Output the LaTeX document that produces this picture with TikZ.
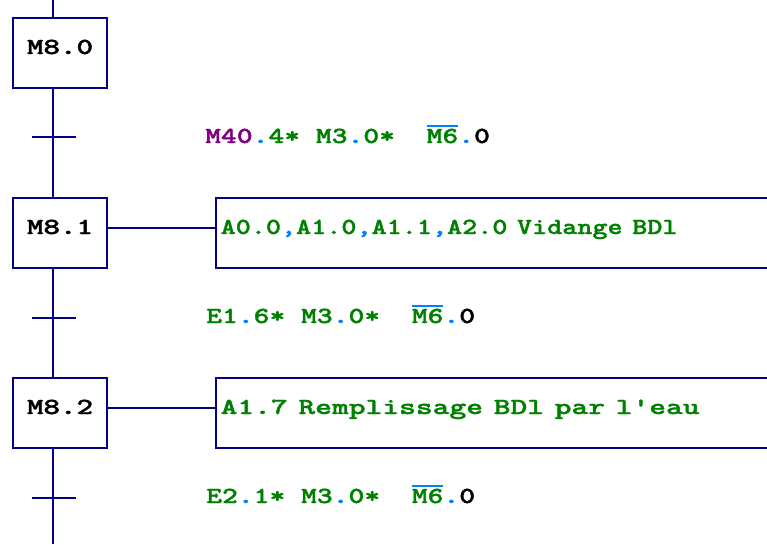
\documentclass[tikz,border=0pt]{standalone}
\usepackage{graphicx}
\usepackage{fontspec}
\newfontfamily\codemono{lmmonolt10-bold.otf}[FakeBold=1.3]
\definecolor{navy}{RGB}{0,0,128}
\definecolor{codegreen}{RGB}{0,128,0}
\definecolor{mpurple}{RGB}{128,0,128}
\definecolor{dotblue}{RGB}{0,128,255}
\newsavebox\ovlbox
% signal name with a negation bar above it
\newcommand\ovl[1]{\sbox\ovlbox{#1}\rlap{\textcolor{dotblue}{\rule[16.3pt]{\wd\ovlbox}{1.7pt}}}\usebox\ovlbox}
\newcommand\bdot{\textcolor{dotblue}{.}}
\newcommand\bcomma{\textcolor{dotblue}{,}}
\tikzset{
  link/.style={draw=navy, line width=2.3pt},
  codefont/.style={font=\fontsize{23}{23}\codemono},
  stepbox/.style={codefont, draw=navy, line width=2.3pt, minimum width=94pt,
    minimum height=70pt, text height=10pt, text depth=8pt, inner sep=0pt, text=black},
  actbox/.style={codefont, draw=navy, line width=2.3pt, minimum height=70pt,
    text height=10pt, text depth=8pt, inner xsep=4.5pt, inner ysep=0pt,
    text width=566pt, align=left, anchor=west, text=codegreen},
  cond/.style={codefont, anchor=base west, inner sep=0pt, text=codegreen},
}
\begin{document}
\begin{tikzpicture}[x=1pt, y=-1pt]
\useasboundingbox (0,0) rectangle (767,544);
\clip (0,0) rectangle (767,544);

% steps
\node[stepbox] (s0) at (60,53)  {\scalebox{1.37}[1]{M8.0}};
\node[stepbox] (s1) at (60,233) {\scalebox{1.37}[1]{M8.1}};
\node[stepbox] (s2) at (60,413) {\scalebox{1.37}[1]{M8.2}};

% actions
\node[actbox] (a1) at (215,233) {\scalebox{1.25}[1]{A0.0\bcomma A1.0\bcomma A1.1\bcomma A2.0 Vidange BDl}};
\node[actbox] (a2) at (215,413) {\scalebox{1.39}[1]{A1.7 Remplissage BDl par l\textquotesingle eau}};

% main vertical line
\coordinate (top) at (53,0);
\coordinate (bot) at (53,544);
\draw[link] (top) -- (s0.north -| top);
\draw[link] (s0.south -| top) -- (s1.north -| top);
\draw[link] (s1.south -| top) -- (s2.north -| top);
\draw[link] (s2.south -| top) -- (bot);

% transitions
\coordinate (t0) at (53,137);
\coordinate (t1) at (53,318);
\coordinate (t2) at (53,498);
\foreach \t in {t0,t1,t2}
  \draw[link] ([xshift=-21pt]\t) -- ([xshift=23pt]\t);

% step to action links
\draw[link] ([yshift=5pt]s1.east) -- ([yshift=5pt]s1.east -| a1.west);
\draw[link] ([yshift=5pt]s2.east) -- ([yshift=5pt]s2.east -| a2.west);

% receptivities
\node[cond] (c0) at (205,143) {\scalebox{1.31}[1]{\textcolor{mpurple}{M40}\bdot 4* M3\bdot 0*~~\ovl{M6}\bdot\textcolor{black}{0}}};
\node[cond] (c1) at (206,323) {\scalebox{1.31}[1]{E1\bdot 6* M3\bdot 0*~~\ovl{M6}\bdot\textcolor{black}{0}}};
\node[cond] (c2) at (206,503) {\scalebox{1.31}[1]{E2\bdot 1* M3\bdot 0*~~\ovl{M6}\bdot\textcolor{black}{0}}};
\end{tikzpicture}
\end{document}
